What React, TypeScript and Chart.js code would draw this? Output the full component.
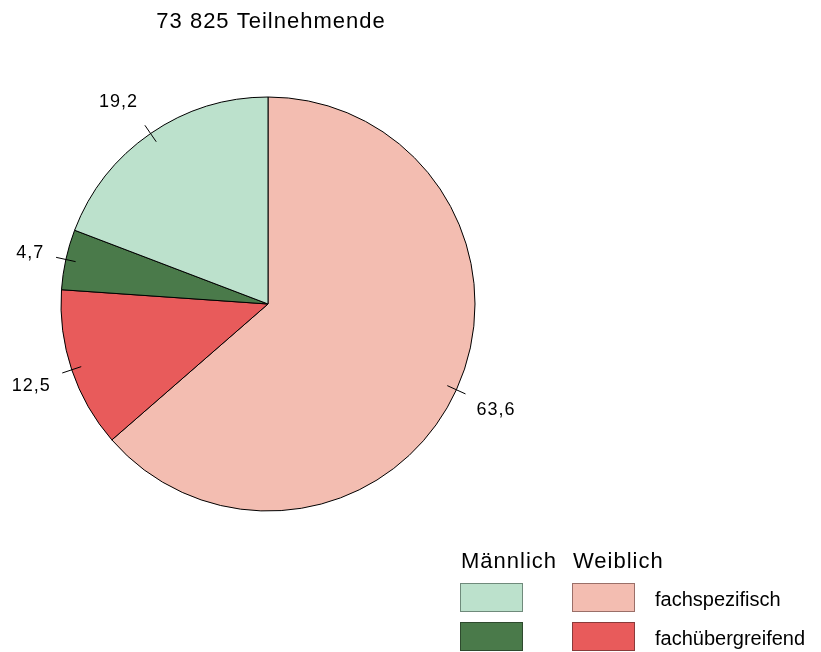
import React, { useEffect, useRef } from "react";
import { Chart, registerables } from "chart.js";

Chart.register(...registerables);

const categories = [
  "Weiblich fachspezifisch",
  "Weiblich fachübergreifend",
  "Männlich fachübergreifend",
  "Männlich fachspezifisch",
];
const values = [63.6, 12.5, 4.7, 19.2];
const valueLabels = ["63,6", "12,5", "4,7", "19,2"];
const colors = ["#F3BDB1", "#E85B5B", "#4A7A4A", "#BCE1CC"];
const legendBorders = ["#9A6F68", "#8A3A3A", "#2E4A2E", "#6F8A7B"];
const title = "73 825 Teilnehmende";
const legendHeaders = ["Männlich", "Weiblich"];
const legendRows = ["fachspezifisch", "fachübergreifend"];

const FONT = "'Liberation Sans', Arial, sans-serif";

const decorPlugin = {
  id: "decor",
  afterDraw(chart: any) {
    const ctx = chart.ctx as CanvasRenderingContext2D;
    const meta = chart.getDatasetMeta(0);
    ctx.save();
    // title
    ctx.fillStyle = "#000";
    ctx.font = `22px ${FONT}`;
    (ctx as any).letterSpacing = "1px";
    ctx.textAlign = "center";
    ctx.textBaseline = "alphabetic";
    ctx.fillText(title, 271, 28);

    // ticks and labels
    meta.data.forEach((arc: any, i: number) => {
      const { x, y, startAngle, endAngle, outerRadius } = arc.getProps(
        ["x", "y", "startAngle", "endAngle", "outerRadius"],
        true
      );
      const mid = (startAngle + endAngle) / 2;
      const c = Math.cos(mid);
      const s = Math.sin(mid);
      ctx.strokeStyle = "#000";
      ctx.lineWidth = 1;
      ctx.beginPath();
      ctx.moveTo(x + c * (outerRadius - 10), y + s * (outerRadius - 10));
      ctx.lineTo(x + c * (outerRadius + 10), y + s * (outerRadius + 10));
      ctx.stroke();
      const r = outerRadius + 22;
      const lx = x + c * r;
      const ly = y + s * r + 3 + s * 20;
      ctx.font = `18px ${FONT}`;
      (ctx as any).letterSpacing = "1px";
      ctx.textAlign = c > 0.3 ? "left" : c < -0.3 ? "right" : "center";
      ctx.textBaseline = "middle";
      ctx.fillText(valueLabels[i], lx, ly);
    });

    // legend
    ctx.font = `22px ${FONT}`;
    (ctx as any).letterSpacing = "1px";
    ctx.textAlign = "left";
    ctx.textBaseline = "alphabetic";
    ctx.fillText(legendHeaders[0], 461, 568);
    ctx.fillText(legendHeaders[1], 573, 568);
    const boxes = [
      { x: 460, y: 583, idx: 3 },
      { x: 572, y: 583, idx: 0 },
      { x: 460, y: 622, idx: 2 },
      { x: 572, y: 622, idx: 1 },
    ];
    boxes.forEach((b) => {
      ctx.fillStyle = colors[b.idx];
      ctx.fillRect(b.x, b.y, 63, 29);
      ctx.strokeStyle = legendBorders[b.idx];
      ctx.lineWidth = 1;
      ctx.strokeRect(b.x + 0.5, b.y + 0.5, 62, 28);
    });
    ctx.fillStyle = "#000";
    ctx.font = `20px ${FONT}`;
    (ctx as any).letterSpacing = "0px";
    ctx.fillText(legendRows[0], 655, 606);
    ctx.fillText(legendRows[1], 655, 645);
    ctx.restore();
  },
};

export default function App() {
  const ref = useRef<HTMLCanvasElement | null>(null);
  useEffect(() => {
    if (!ref.current) return;
    const chart = new Chart(ref.current, {
      type: "pie",
      data: {
        labels: categories,
        datasets: [
          {
            data: values,
            backgroundColor: colors,
            borderColor: "#000",
            borderWidth: 1,
            hoverOffset: 0,
          },
        ],
      },
      options: {
        responsive: false,
        animation: false,
        radius: 207,
        layout: { padding: { left: 50, right: 335, top: 60, bottom: 104 } },
        plugins: {
          legend: { display: false },
          tooltip: { enabled: false },
          title: { display: false },
        },
      } as any,
      plugins: [decorPlugin],
    });
    return () => chart.destroy();
  }, []);
  return (
    <canvas
      ref={ref}
      width={821}
      height={652}
      style={{ position: "fixed", left: 0, top: 0, display: "block", background: "#fff" }}
    />
  );
}
